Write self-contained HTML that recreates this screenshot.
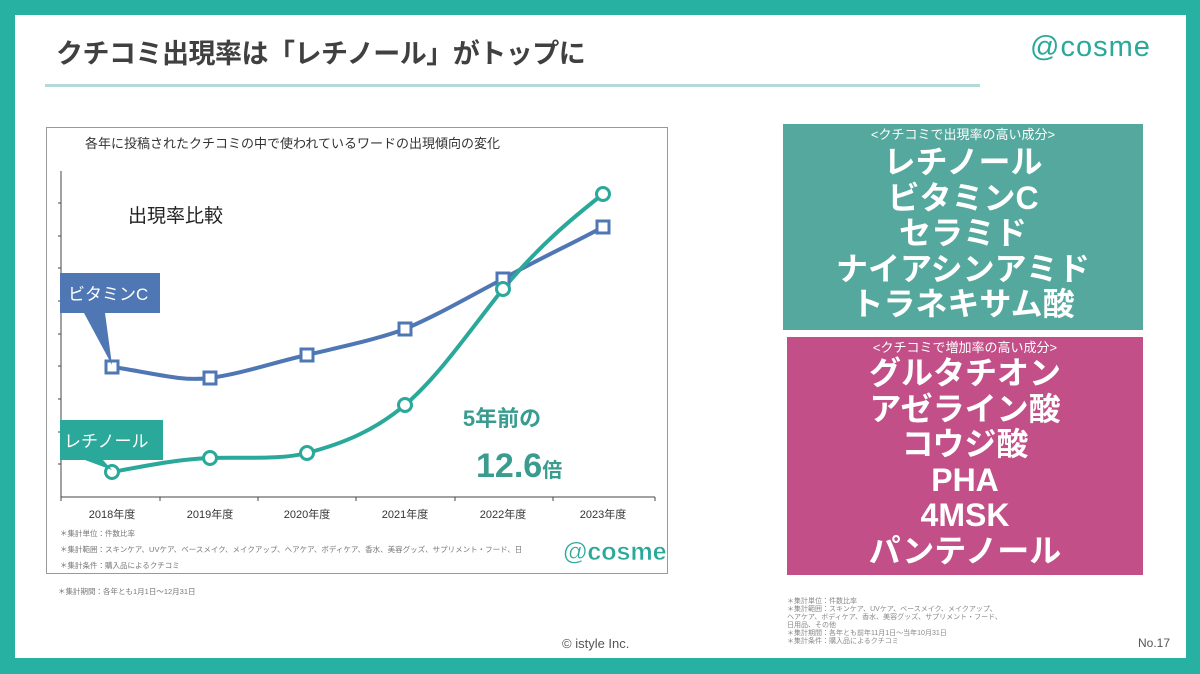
<!DOCTYPE html>
<html><head><meta charset="utf-8"><style>
*{margin:0;padding:0;box-sizing:border-box}
body{width:1200px;height:674px;background:#26b1a3;position:relative;overflow:hidden;font-family:"Liberation Sans","Noto Sans CJK JP",sans-serif}
.page{position:absolute;left:15px;top:15px;width:1171px;height:643px;background:#fff}
.abs{position:absolute}
.title{left:56px;top:32px;font-size:27px;font-weight:bold;color:#404040;letter-spacing:-0.5px}
.rule{left:45px;top:84px;width:935px;height:3px;background:#b5d9d6}
.logo{left:1030px;top:31px;font-size:29px;color:#2aa89a;letter-spacing:1px}
.panel{color:#fff;text-align:center;font-weight:bold}
.panel .sub{font-size:13px;font-weight:normal;line-height:16px;padding-top:3px}
.panel .it{font-size:32px;line-height:35.5px}
.fn{color:#888;font-size:7px;line-height:8px}
</style></head><body>
<div class="page"></div>
<div class="abs title">クチコミ出現率は「レチノール」がトップに</div>
<div class="abs rule"></div>
<div class="abs logo">@cosme</div>

<svg class="abs" style="left:0;top:0" width="1200" height="674">
<rect x="46.5" y="127.5" width="621" height="446" fill="#fff" stroke="#999" stroke-width="1"/>
<text x="85" y="148" font-size="13" fill="#333">各年に投稿されたクチコミの中で使われているワードの出現傾向の変化</text>
<text x="128" y="222" font-size="19" fill="#222">出現率比較</text>
<g stroke="#444" stroke-width="1">
<line x1="61" y1="171" x2="61" y2="497"/>
<line x1="61" y1="497" x2="655" y2="497"/>
<line x1="61" y1="497" x2="61" y2="501"/><line x1="160" y1="497" x2="160" y2="501"/><line x1="258" y1="497" x2="258" y2="501"/><line x1="356" y1="497" x2="356" y2="501"/><line x1="455" y1="497" x2="455" y2="501"/><line x1="553" y1="497" x2="553" y2="501"/><line x1="655" y1="497" x2="655" y2="501"/>
<line x1="58" y1="203" x2="61" y2="203"/><line x1="58" y1="236" x2="61" y2="236"/><line x1="58" y1="268" x2="61" y2="268"/><line x1="58" y1="301" x2="61" y2="301"/><line x1="58" y1="334" x2="61" y2="334"/><line x1="58" y1="366" x2="61" y2="366"/><line x1="58" y1="399" x2="61" y2="399"/><line x1="58" y1="432" x2="61" y2="432"/><line x1="58" y1="464" x2="61" y2="464"/>
</g>
<g font-size="11" fill="#333" text-anchor="middle">
<text x="112" y="518">2018年度</text><text x="210" y="518">2019年度</text><text x="307" y="518">2020年度</text><text x="405" y="518">2021年度</text><text x="503" y="518">2022年度</text><text x="603" y="518">2023年度</text>
</g>
<path d="M112,367 C150,372 180,382 210,378 C245,373 275,362 307,355 C340,347 375,340 405,329 C440,314 470,296 503,279 C540,258 570,245 603,227" fill="none" stroke="#4f77b3" stroke-width="4"/>
<path d="M112,472 C150,465 180,459 210,458 C245,457 280,460 307,453 C345,443 375,430 405,405 C440,375 470,330 503,289 C540,245 570,220 603,194" fill="none" stroke="#2aa89a" stroke-width="4"/>
<g fill="#fff" stroke="#4f77b3" stroke-width="3">
<rect x="106" y="361" width="12" height="12"/><rect x="204" y="372" width="12" height="12"/><rect x="301" y="349" width="12" height="12"/><rect x="399" y="323" width="12" height="12"/><rect x="497" y="273" width="12" height="12"/><rect x="597" y="221" width="12" height="12"/>
</g>
<g fill="#fff" stroke="#2aa89a" stroke-width="3">
<circle cx="112" cy="472" r="6.5"/><circle cx="210" cy="458" r="6.5"/><circle cx="307" cy="453" r="6.5"/><circle cx="405" cy="405" r="6.5"/><circle cx="503" cy="289" r="6.5"/><circle cx="603" cy="194" r="6.5"/>
</g>
<path d="M60,273 H160 V313 H105 L112,365 L84,313 H60Z" fill="#4f77b3"/>
<text x="68" y="300" font-size="17" fill="#fff">ビタミンC</text>
<path d="M60,420 H163 V460 H103 L112,470 L85,460 H60Z" fill="#2aa89a"/>
<text x="64" y="447" font-size="17" fill="#fff">レチノール</text>
<text x="502" y="426" font-size="22" fill="#3a9b8f" font-weight="bold" text-anchor="middle">5年前の</text>
<text x="476" y="477" font-size="34" fill="#3a9b8f" font-weight="bold">12.6<tspan font-size="20">倍</tspan></text>
<g font-size="7.5" fill="#777">
<text x="60" y="536">＊集計単位：件数比率</text>
<text x="60" y="552">＊集計範囲：スキンケア、UVケア、ベースメイク、メイクアップ、ヘアケア、ボディケア、香水、美容グッズ、サプリメント・フード、日</text>
<text x="60" y="568">＊集計条件：購入品によるクチコミ</text>
<text x="58" y="594">＊集計期間：各年とも1月1日～12月31日</text>
</g>
<rect x="560" y="533" width="104" height="36" rx="12" fill="#fff"/>
<text x="563" y="560" font-size="25" font-weight="bold" fill="#2aa89a" stroke="#fff" stroke-width="0.5">@cosme</text>
</svg>

<div class="abs panel" style="left:783px;top:124px;width:360px;height:206px;background:#55a89d">
<div class="sub">&lt;クチコミで出現率の高い成分&gt;</div>
<div class="it" style="padding-top:2px">レチノール<br>ビタミンC<br>セラミド<br>ナイアシンアミド<br>トラネキサム酸</div>
</div>
<div class="abs panel" style="left:787px;top:337px;width:356px;height:238px;background:#c24f87">
<div class="sub">&lt;クチコミで増加率の高い成分&gt;</div>
<div class="it">グルタチオン<br>アゼライン酸<br>コウジ酸<br>PHA<br>4MSK<br>パンテノール</div>
</div>
<div class="abs fn" style="left:787px;top:598px;width:215px">＊集計単位：件数比率<br>＊集計範囲：スキンケア、UVケア、ベースメイク、メイクアップ、ヘアケア、ボディケア、香水、美容グッズ、サプリメント・フード、日用品、その他<br>＊集計期間：各年とも前年11月1日～当年10月31日<br>＊集計条件：購入品によるクチコミ</div>
<div class="abs" style="left:562px;top:636px;font-size:13px;color:#555">© istyle Inc.</div>
<div class="abs" style="left:1138px;top:636px;font-size:12px;color:#555">No.17</div>
</body></html>
